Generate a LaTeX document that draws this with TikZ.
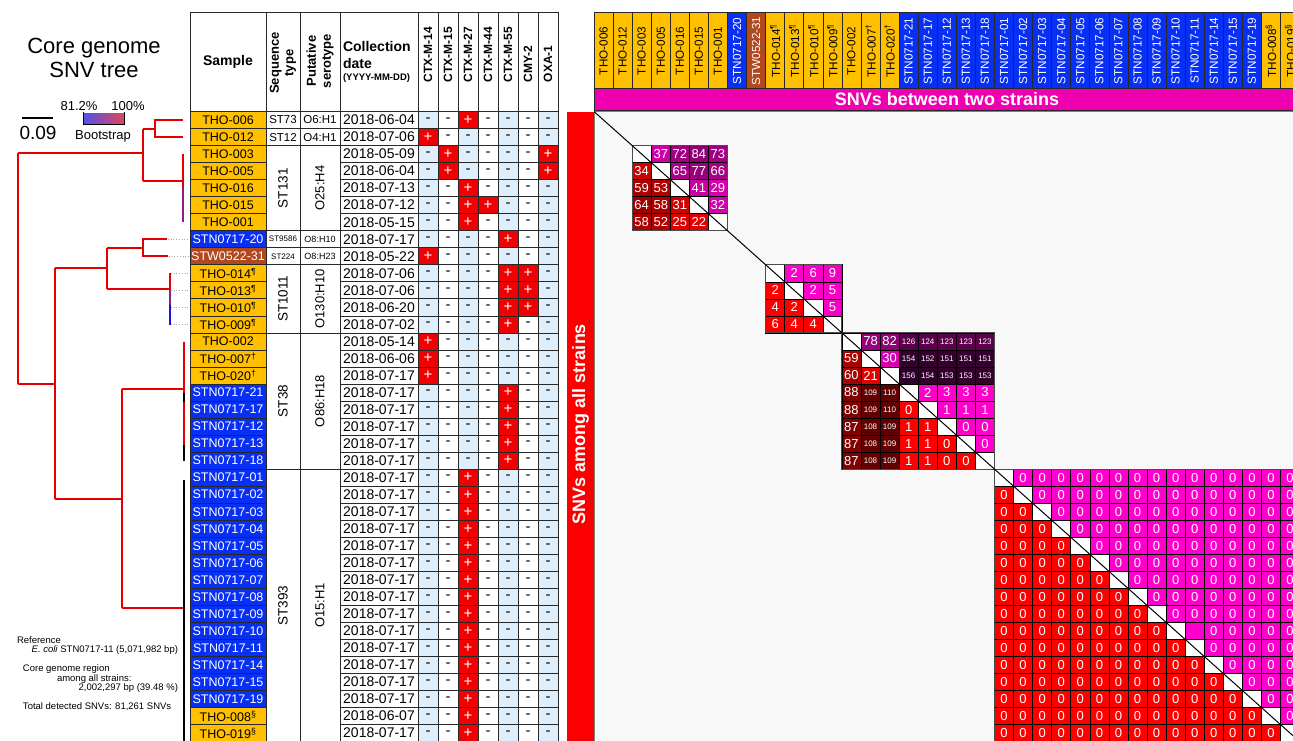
\documentclass[tikz,border=0pt]{standalone}
\usepackage{fontspec}
\setmainfont{Liberation Sans}
\newcommand\fsz[1]{\fontsize{#1}{#1}\selectfont}
\newcommand\supmark[1]{\textsuperscript{#1}}
\newcommand\stripbr[1]{#1}
\definecolor{orng}{RGB}{255,192,0}
\definecolor{blu}{RGB}{8,48,245}
\definecolor{brn}{RGB}{178,72,30}
\definecolor{lblu}{RGB}{222,238,250}
\definecolor{plusred}{RGB}{240,0,0}
\definecolor{magbar}{RGB}{238,0,176}
\definecolor{barred}{RGB}{250,0,0}
\definecolor{treered}{RGB}{228,0,0}
\definecolor{treepur}{RGB}{140,30,140}
\definecolor{treeblu}{RGB}{20,20,230}
\definecolor{upbright}{RGB}{255,0,204}
\definecolor{updark}{RGB}{40,0,36}
\definecolor{lobright}{RGB}{255,0,0}
\definecolor{lodark}{RGB}{80,0,0}
\definecolor{mbg}{RGB}{248,248,248}
\definecolor{gridc}{RGB}{40,40,40}
\definecolor{bsblue}{RGB}{80,80,240}
\definecolor{bsred}{RGB}{225,70,90}
\tikzset{
  gline/.style={draw=gridc, line width=0.7pt},
  cline/.style={draw=black, line width=0.6pt},
  tl/.style={draw=treered, line width=2pt, line join=miter},
  lead/.style={draw=gray!70, dotted, line width=0.7pt},
  txt/.style={inner sep=0pt, outer sep=0pt},
  celltxt/.style={inner sep=0pt, outer sep=0pt, text=white},
}
\newcommand\mcell[3]{%
  \pgfmathsetmacro\mx{594+(#2-1)*19.07}%
  \pgfmathsetmacro\my{111.5+(#1-1)*17.03}%
  \ifnum#1=#2\relax
    \fill[white] (\mx,\my) rectangle ++(19.07,17.03);
  \else
    \ifnum#2>#1\relax
      \pgfmathtruncatemacro\pc{min(100,abs(#3)*100/160)}%
      \colorlet{cc}{updark!\pc!upbright}%
    \else
      \pgfmathtruncatemacro\pc{min(100,abs(#3)*100/120)}%
      \colorlet{cc}{lodark!\pc!lobright}%
    \fi
    \fill[cc] (\mx,\my) rectangle ++(19.07,17.03);
    \ifnum#3<0\relax\else
      \ifnum#3>99\relax\def\cfs{8}\else\def\cfs{13}\fi
      \node[celltxt,font=\fsz{\cfs}] (m#1-#2) at (\mx+9.535,\my+8.515) {#3};
    \fi
  \fi
  \draw[cline] (\mx,\my) rectangle ++(19.07,17.03);
}
\newcommand\drawblock[2]{%
  \foreach \rw [count=\ri from #1] in {#2} {
    \edef\rwx{\expandafter\stripbr\rw}
    \foreach \vl [count=\ci from #1] in \rwx {
      \mcell{\ri}{\ci}{\vl}
    }
  }
}
\begin{document}
\begin{tikzpicture}[x=1pt,y=-1pt]
\useasboundingbox (0,0) rectangle (1293,740);
\fill[white] (0,0) rectangle (1293,740);

% ---------- title and legends ----------
\node[txt,font=\fsz{22}] (title1) at (94,48) {Core genome};
\node[txt,font=\fsz{22}] (title2) at (94,70) {SNV tree};
\draw[line width=1.5pt] (22,118) -- (53,118);
\node[txt,font=\fsz{19}] (scale) at (38,133) {0.09};
\shade[left color=bsblue, right color=bsred] (83,113) rectangle (124,124);
\draw[line width=1pt] (83,112) -- (83,124) -- (124,124) -- (124,112);
\node[txt,font=\fsz{13}] (bs1) at (79,106) {81.2\%};
\node[txt,font=\fsz{13}] (bs2) at (128,106) {100\%};
\node[txt,font=\fsz{13}] (bs3) at (103,136) {Bootstrap};

\node[txt,font=\fsz{9.5},anchor=west] (r1) at (17,640) {Reference};
\node[txt,font=\fsz{9.5},anchor=east] (r2) at (178,650) {\textit{E. coli} STN0717-11 (5,071,982 bp)};
\node[txt,font=\fsz{9.5},anchor=west] (r3) at (23,669) {Core genome region};
\node[txt,font=\fsz{9.5},anchor=west] (r4) at (57,679) {among all strains:};
\node[txt,font=\fsz{9.5},anchor=east] (r5) at (178,688) {2,002,297 bp (39.48 \%)};
\node[txt,font=\fsz{9.5},anchor=west] (r6) at (23,707) {Total detected SNVs: 81,261 SNVs};

% ---------- table header ----------
\foreach \xa/\xb in {190/266,266/300,300/340,340/418,418/438,438/458,458/478,478/498,498/518,518/538,538/558}
  \draw[gline] (\xa,12) rectangle (\xb,111.5);
\node[txt,font=\bfseries\fsz{14}] (hS) at (228,62) {Sample};
\node[txt,rotate=90,align=center,font=\bfseries\fontsize{13}{14.5}\selectfont] (hST) at (283,63) {Sequence\\type};
\node[txt,rotate=90,align=center,font=\bfseries\fontsize{13}{15}\selectfont] (hSe) at (320,61) {Putative\\serotype};
\node[txt,anchor=west,font=\bfseries\fsz{14}] (hC1) at (343,46) {Collection};
\node[txt,anchor=west,font=\bfseries\fsz{14}] (hC2) at (343,63) {date};
\node[txt,anchor=west,font=\bfseries\fsz{9.5}] (hC3) at (343,78) {(YYYY-MM-DD)};
\foreach \gn [count=\kk] in {CTX-M-14,CTX-M-15,CTX-M-27,CTX-M-44,CTX-M-55,CMY-2,OXA-1}
  \node[txt,rotate=90,anchor=west,font=\bfseries\fsz{12}] (hg\kk) at (408+\kk*20,82) {\gn};

% ---------- matrix frame ----------
\fill[mbg] (594,111.5) rectangle (1299.6,741.6);
\draw[draw=gray, line width=0.8pt] (594,111.5) rectangle (1299.6,741.6);
\fill[barred] (567,111.5) rectangle (594,742);
\node[txt,rotate=90,font=\bfseries\fsz{18},text=white] (among) at (580.5,424) {SNVs among all strains};
\fill[magbar] (594,88) rectangle (1299.6,110);
\draw[gline] (594,88) rectangle (1299.6,110);
\node[txt,font=\bfseries\fsz{18},text=white] (between) at (947,99) {SNVs between two strains};

% ---------- sample rows + matrix header ----------
% last field: bit mask of the genes present (bit k-1 = gene column k)
\foreach \ix/\nm/\fc/\tc/\dt/\gl in {
 1/THO-006/orng/black/2018-06-04/4,
 2/THO-012/orng/black/2018-07-06/1,
 3/THO-003/orng/black/2018-05-09/66,
 4/THO-005/orng/black/2018-06-04/66,
 5/THO-016/orng/black/2018-07-13/4,
 6/THO-015/orng/black/2018-07-12/12,
 7/THO-001/orng/black/2018-05-15/4,
 8/STN0717-20/blu/white/2018-07-17/16,
 9/STW0522-31/brn/white/2018-05-22/1,
 10/THO-014\supmark{¶}/orng/black/2018-07-06/48,
 11/THO-013\supmark{¶}/orng/black/2018-07-06/48,
 12/THO-010\supmark{¶}/orng/black/2018-06-20/48,
 13/THO-009\supmark{¶}/orng/black/2018-07-02/16,
 14/THO-002/orng/black/2018-05-14/1,
 15/THO-007\supmark{†}/orng/black/2018-06-06/1,
 16/THO-020\supmark{†}/orng/black/2018-07-17/1,
 17/STN0717-21/blu/white/2018-07-17/16,
 18/STN0717-17/blu/white/2018-07-17/16,
 19/STN0717-12/blu/white/2018-07-17/16,
 20/STN0717-13/blu/white/2018-07-17/16,
 21/STN0717-18/blu/white/2018-07-17/16,
 22/STN0717-01/blu/white/2018-07-17/4,
 23/STN0717-02/blu/white/2018-07-17/4,
 24/STN0717-03/blu/white/2018-07-17/4,
 25/STN0717-04/blu/white/2018-07-17/4,
 26/STN0717-05/blu/white/2018-07-17/4,
 27/STN0717-06/blu/white/2018-07-17/4,
 28/STN0717-07/blu/white/2018-07-17/4,
 29/STN0717-08/blu/white/2018-07-17/4,
 30/STN0717-09/blu/white/2018-07-17/4,
 31/STN0717-10/blu/white/2018-07-17/4,
 32/STN0717-11/blu/white/2018-07-17/4,
 33/STN0717-14/blu/white/2018-07-17/4,
 34/STN0717-15/blu/white/2018-07-17/4,
 35/STN0717-19/blu/white/2018-07-17/4,
 36/THO-008\supmark{§}/orng/black/2018-06-07/4,
 37/THO-019\supmark{§}/orng/black/2018-07-17/4
}{
  \pgfmathsetmacro\yt{111.5+(\ix-1)*17.03}
  \pgfmathsetmacro\yb{111.5+\ix*17.03}
  \pgfmathsetmacro\yc{111.5+(\ix-0.5)*17.03}
  \fill[\fc] (190,\yt) rectangle (266,\yb);
  \draw[gline] (190,\yt) rectangle (266,\yb);
  \node[txt,text=\tc,font=\fsz{12.5}] (s\ix) at (228,\yc) {\nm};
  \draw[gline] (340,\yt) rectangle (418,\yb);
  \node[txt,font=\fsz{14}] (d\ix) at (379,\yc) {\dt};
  \foreach \kk in {1,...,7} {
    \pgfmathsetmacro\gx{418+(\kk-1)*20}
    \pgfmathtruncatemacro\gv{mod(floor(\gl/(2^(\kk-1))),2)}
    \ifodd\kk\relax \fill[lblu] (\gx,\yt) rectangle ++(20,17.03); \fi
    \ifnum\gv=1\relax
      \fill[plusred] (\gx,\yt) rectangle ++(20,17.03);
      \node[txt,text=white,font=\fsz{15}] (g\ix-\kk) at (\gx+10,\yc) {+};
    \else
      \node[txt,font=\fsz{15}] (g\ix-\kk) at (\gx+10,\yc) {-};
    \fi
    \draw[gline] (\gx,\yt) rectangle ++(20,17.03);
  }
  \pgfmathsetmacro\hx{594+(\ix-1)*19.07}
  \fill[\fc] (\hx,12) rectangle ++(19.07,76);
  \draw[gline] (\hx,12) rectangle ++(19.07,76);
  \node[txt,rotate=90,text=\tc,font=\fsz{11.7}] (h\ix) at (\hx+9.535,51) {\nm};
}

% ---------- sequence type / serotype groups ----------
\foreach \ra/\rb/\st/\se/\md in {1/1/ST73/O6:H1/0, 2/2/ST12/O4:H1/0, 3/7/ST131/O25:H4/1, 8/8/ST9586/O8:H10/2, 9/9/ST224/O8:H23/2, 10/13/ST1011/O130:H10/1, 14/21/ST38/O86:H18/1, 22/37/ST393/O15:H1/1}{
  \pgfmathsetmacro\gt{111.5+(\ra-1)*17.03}
  \pgfmathsetmacro\gb{111.5+\rb*17.03}
  \pgfmathsetmacro\gc{(\gt+\gb)/2}
  \draw[gline] (266,\gt) rectangle (300,\gb);
  \draw[gline] (300,\gt) rectangle (340,\gb);
  \ifcase\md\relax
    \node[txt,font=\fsz{11.5}] (st\ra) at (283,\gc) {\st};
    \node[txt,font=\fsz{11.5}] (se\ra) at (320,\gc) {\se};
  \or
    \node[txt,rotate=90,font=\fsz{13.5}] (st\ra) at (283,\gc) {\st};
    \node[txt,rotate=90,font=\fsz{13}] (se\ra) at (320,\gc) {\se};
  \or
    \node[txt,font=\fsz{8}] (st\ra) at (283,\gc) {\st};
    \node[txt,font=\fsz{9}] (se\ra) at (320,\gc) {\se};
  \fi
}

% ---------- tree ----------
\draw[tl] (18,153) -- (18,383.5);
\draw[tl] (18,153) -- (143,153);
\draw[tl] (143,128.5) -- (143,181);
\draw[tl] (143,128.5) -- (155,128.5);
\draw[tl] (183,120) -- (155,120) -- (155,137.1) -- (183,137.1);
\draw[tl] (143,181) -- (183,181);
\draw[tl] (183,154.1) -- (183,188);
\draw[tl,draw=treepur] (183,188) -- (183,222.2);
\draw[tl] (18,383.5) -- (55,383.5);
\draw[tl] (55,268) -- (55,499);
\draw[tl] (55,268) -- (107,268);
\draw[tl] (107,247.8) -- (107,289);
\draw[tl] (107,247.8) -- (143,247.8);
\draw[tl] (167,239.3) -- (143,239.3) -- (143,256.3) -- (168,256.3);
\draw[tl] (107,289) -- (170,289);
\draw[tl] (170,273.4) -- (170,290.4);
\draw[tl,draw=treepur] (170,290.4) -- (170,305);
\draw[tl,draw=treeblu] (170,305) -- (170,324.5);
\draw[lead] (168,239.3) -- (188,239.3);
\draw[lead] (169,256.3) -- (188,256.3);
\foreach \yy in {273.4,290.4,307.4,324.5} \draw[lead] (171,\yy) -- (188,\yy);
\draw[tl] (55,499) -- (122,499);
\draw[tl] (122,389) -- (122,608);
\draw[tl] (122,389) -- (184,389);
\draw[tl] (184,341.5) -- (184,393);
\draw[tl,draw=black] (184,393) -- (184,402);
\draw[tl] (184,402) -- (184,445);
\draw[tl,draw=black] (184,445) -- (184,461);
\draw[tl] (122,608) -- (184,608);
\draw[tl,draw=black] (184,480) -- (184,745);

% ---------- SNV matrix blocks ----------
\drawblock{3}{{-1,37,72,84,73},{34,-1,65,77,66},{59,53,-1,41,29},{64,58,31,-1,32},{58,52,25,22,-1}}
\drawblock{10}{{-1,2,6,9},{2,-1,2,5},{4,2,-1,5},{6,4,4,-1}}
\drawblock{14}{{-1,78,82,126,124,123,123,123},{59,-1,30,154,152,151,151,151},{60,21,-1,156,154,153,153,153},{88,109,110,-1,2,3,3,3},{88,109,110,0,-1,1,1,1},{87,108,109,1,1,-1,0,0},{87,108,109,1,1,0,-1,0},{87,108,109,1,1,0,0,-1}}
\foreach \ri in {22,...,37}{
  \foreach \ci in {22,...,37}{
    \pgfmathtruncatemacro\vv{(\ri==31 && \ci==32) ? -1 : 0}
    \mcell{\ri}{\ci}{\vv}
  }
}
\foreach \ba/\bb in {3/7,10/13,14/21,22/37}{
  \pgfmathsetmacro\bx{594+(\ba-1)*19.07}
  \pgfmathsetmacro\by{111.5+(\ba-1)*17.03}
  \pgfmathsetmacro\ex{594+\bb*19.07}
  \pgfmathsetmacro\ey{111.5+\bb*17.03}
  \draw[draw=gray!60!black, line width=1pt] (\bx,\by) rectangle (\ex,\ey);
}
\draw[line width=1pt] (594,111.5) -- (1299.6,741.6);
\end{tikzpicture}
\end{document}
